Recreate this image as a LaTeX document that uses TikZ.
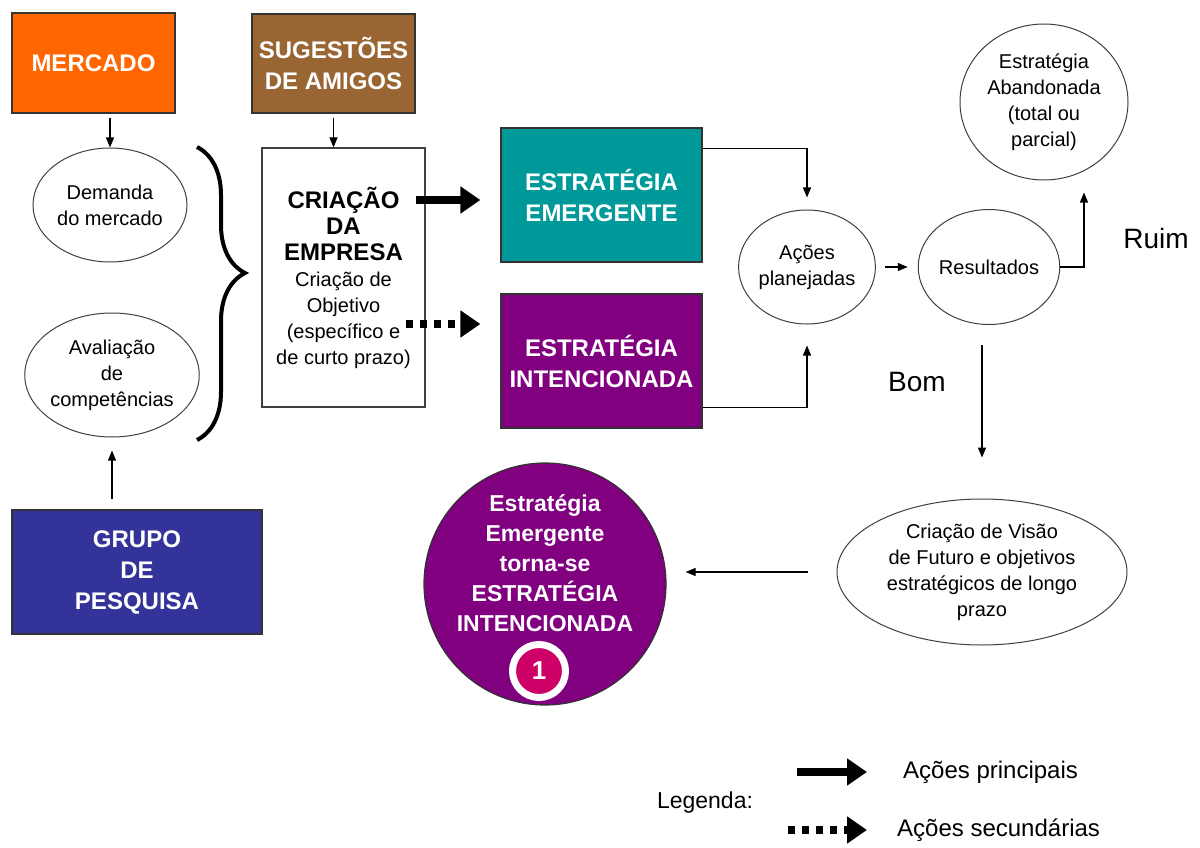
\documentclass[tikz,border=0pt]{standalone}
\usepackage{fontspec}
\setmainfont{Liberation Sans}
\usetikzlibrary{arrows.meta,positioning,shapes,calc,decorations.pathreplacing}
\definecolor{laranja}{HTML}{FF6600}
\definecolor{marrom}{HTML}{996633}
\definecolor{verde}{HTML}{009999}
\definecolor{roxo}{HTML}{800080}
\definecolor{azul}{HTML}{333399}
\definecolor{rosa}{HTML}{CC0066}
\newcommand{\titulo}{\bfseries\fontsize{24}{31}\selectfont}
\tikzset{
  caixa/.style={draw=black!80,line width=1.2pt,text=white,align=center,inner sep=0pt,font=\bfseries\fontsize{24}{31}\selectfont},
  oval/.style={draw=black!75,ellipse,line width=1pt,fill=white,align=center,inner sep=0pt,font=\fontsize{20}{26}\selectfont},
  seta/.style={line width=1.2pt,-{Triangle[length=10pt,width=8pt]}},
  grossa/.style={line width=8pt,-{Triangle[length=20pt,width=26pt]}},
  pont/.style={grossa,dash pattern=on 7pt off 7pt},
  rotulo/.style={font=\fontsize{23}{23}\selectfont,inner sep=0pt},
}

\begin{document}
\begin{tikzpicture}[x=1pt,y=-1pt]
	\useasboundingbox (0,0) rectangle (1200,848);

	\node[caixa,fill=laranja,minimum width=163pt,minimum height=100pt] at (93.5,63) (merc) {MERCADO};
	\node[caixa,fill=marrom,minimum width=163pt,minimum height=99pt] at (333.5,63.5) (sug) {SUGESTÕES\\DE AMIGOS};
	\node[oval,minimum width=154pt,minimum height=114pt] at (110,205) (dem) {Demanda\\do mercado};
	\node[oval,minimum width=163pt,minimum height=124pt] at (112,375) (aval) {Avaliação\\de\\competências};
	\node[caixa,fill=azul,minimum width=250pt,minimum height=124pt] at (137,572) (grupo) {GRUPO\\DE\\PESQUISA};

	% criacao da empresa
	\node[draw=black!75,line width=1.2pt,minimum width=163pt,minimum height=259pt,align=center,inner sep=0pt,font=\fontsize{20}{26}\selectfont] at (343.5,277.5) (cria)
		{\titulo CRIAÇÃO\\\titulo DA\\\titulo EMPRESA\\Criação de\\Objetivo\\(específico e\\de curto prazo)};
	\draw[line width=4pt,decorate,decoration={brace,amplitude=48pt,aspect=0.43}] (197,147) -- (197,440);

	\node[caixa,fill=verde,minimum width=201pt,minimum height=134pt] at (601.5,195) (eme) {ESTRATÉGIA\\EMERGENTE};
	\node[caixa,fill=roxo,minimum width=201pt,minimum height=134pt] at (601.5,361) (int) {ESTRATÉGIA\\INTENCIONADA};
	\node[oval,minimum width=134pt,minimum height=114pt] at (807,267) (acoes) {Ações\\planejadas};
	\node[oval,minimum width=116pt,minimum height=115pt] at (989,267) (res) {Resultados};
	\node[oval,minimum width=168pt,minimum height=156pt] at (1044,102) (aband) {Estratégia\\Abandonada\\(total ou\\parcial)};
	\node[oval,minimum width=290pt,minimum height=146pt] at (982,572) (visao) {Criação de Visão\\de Futuro e objetivos\\estratégicos de longo\\prazo};
	\node[font=\fontsize{28}{28}\selectfont] at (1156,238) (ruim) {Ruim};
	\node[font=\fontsize{28}{28}\selectfont] at (917,382) (bom) {Bom};

	% estrategia final
	\node[circle,draw=black!80,line width=1.2pt,fill=roxo,minimum size=242pt] at (545,584) (final) {};
	\node[text=white,align=center,font=\bfseries\fontsize{23}{30}\selectfont] at (545,563) (txtfinal) {Estratégia\\Emergente\\torna-se\\ESTRATÉGIA\\INTENCIONADA};
	\node[circle,draw=white,line width=7pt,fill=rosa,minimum size=53pt,inner sep=0pt,text=white,font=\bfseries\fontsize{26}{26}\selectfont] at (539,671) (um) {1};

	% conexoes
	\draw[seta,shorten <=4pt] (merc.south -| dem.north) -- (dem.north);
	\draw[seta,shorten <=4pt] (sug.south) -- (sug.south |- cria.north);
	\draw[seta,shorten <=10pt,shorten >=13pt] (aval.south |- grupo.north) -- (aval.south);
	\draw[grossa] ($(cria.east |- eme.west)+(-10,5)$) -- ($(eme.west)+(-20,5)$);
	\draw[pont] ($(cria.east |- int.west)+(-20,-37)$) -- ($(int.west)+(-20,-37)$);
	\draw[seta,shorten >=12pt] ([yshift=-21pt]eme.north east) -| (acoes.north);
	\draw[seta,shorten >=21pt] ([yshift=21pt]int.south east) -| (acoes.south);
	\draw[seta,shorten <=9pt,shorten >=10pt] (acoes.east) -- (res.west);
	\draw[seta,shorten >=12pt] (res.east) -| ([xshift=40pt]aband.south);
	\draw[seta,shorten <=20pt,shorten >=41pt] (res.south -| visao.north) -- (visao.north);
	\draw[seta,shorten <=29pt,shorten >=19pt] (visao.west) -- (visao.west -| final.east);

	% legenda
	\node[rotulo] at (705,803) (leg) {Legenda:};
	\node[rotulo,font=\fontsize{24}{24}\selectfont,anchor=west] at (903,772) (princ) {Ações principais};
	\node[rotulo,font=\fontsize{24}{24}\selectfont,anchor=west] at (897,830) (sec) {Ações secundárias};
	\coordinate (l1) at (797,772);
	\coordinate (l2) at (788,830);
	\draw[grossa,shorten >=36pt] (l1) -- (princ.west);
	\draw[pont,shorten >=30pt] (l2) -- (sec.west);
\end{tikzpicture}
\end{document}
